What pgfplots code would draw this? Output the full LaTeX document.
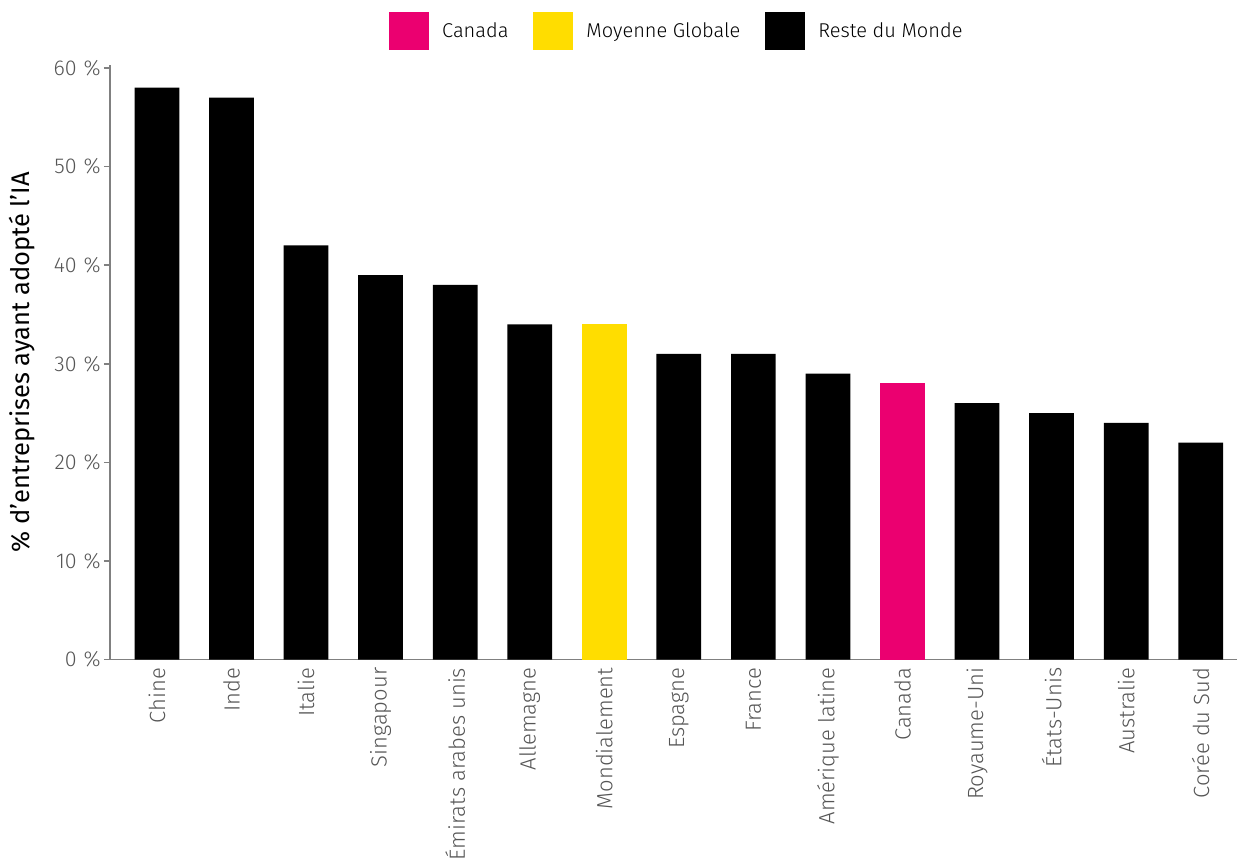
\documentclass[border=0pt]{standalone}
\usepackage{fontspec}
\setmainfont{Fira Sans}[UprightFont={* Light},BoldFont={*}]
\usepackage{pgfplots}
\pgfplotsset{compat=1.18}
\definecolor{cmag}{HTML}{EB0070}
\definecolor{cyel}{HTML}{FFDD00}
\definecolor{axgray}{HTML}{808080}
\definecolor{txgray}{HTML}{555555}
\begin{document}
\begin{tikzpicture}
\begin{axis}[
  scale only axis, width=1128pt, height=595pt,
  xmin=-0.63, xmax=14.49, ymin=0, ymax=60.3,
  axis x line=bottom, axis y line=left,
  axis line style={-, axgray, line width=1.5pt},
  ytick={0,10,...,60},
  yticklabel={\pgfmathprintnumber{\tick}\hspace{7pt}\%},
  /pgf/number format/assume math mode=true,
  ytick style={axgray, line width=1.5pt}, major tick length=6pt, tick align=outside,
  xtick={0,...,14},
  xticklabels={Chine,Inde,Italie,Singapour,Émirats arabes unis,Allemagne,Mondialement,Espagne,France,Amérique latine,Canada,Royaume-Uni,États-Unis,Australie,Corée du Sud},
  xtick style={draw=none},
  x tick label style={rotate=90, anchor=east, font=\fontsize{22}{26}\selectfont, text=txgray, inner sep=2pt},
  y tick label style={font=\fontsize{21.5}{24}\selectfont, text=txgray, inner sep=3pt},
  ylabel={\% d’entreprises ayant adopté l’IA},
  ylabel style={at={(axis description cs:-0.078,0.5)}, anchor=center, font=\bfseries\fontsize{25.5}{29}\selectfont, text=black},
  legend columns=3,
  legend style={draw=none, fill=none, inner sep=0pt, at={(axis description cs:0.502,1)}, anchor=north, yshift=53pt,
    font=\fontsize{20}{24}\selectfont, text=black,
    nodes={inner sep=0pt},
    /tikz/every odd column/.append style={column sep=13pt},
    /tikz/every even column/.append style={column sep=25pt}},
  after end axis/.code={
    \path (rel axis cs:0,0) ++(-110pt,-207pt);
    \path (rel axis cs:1,1) ++(0pt,65pt);
  },
]
\addplot[ybar, bar width=0.6, bar shift=0pt, fill=cmag, draw=none,
  legend image code/.code={\fill[cmag] (0pt,-19pt) rectangle (40pt,19pt);}]
  coordinates {(10,28)};
\addlegendentry{Canada}
\addplot[ybar, bar width=0.6, bar shift=0pt, fill=cyel, draw=none,
  legend image code/.code={\fill[cyel] (0pt,-19pt) rectangle (40pt,19pt);}]
  coordinates {(6,34)};
\addlegendentry{Moyenne Globale}
\addplot[ybar, bar width=0.6, bar shift=0pt, fill=black, draw=none,
  legend image code/.code={\fill[black] (0pt,-19pt) rectangle (40pt,19pt);}]
  coordinates {(0,58) (1,57) (2,42) (3,39) (4,38) (5,34) (7,31) (8,31) (9,29) (11,26) (12,25) (13,24) (14,22)};
\addlegendentry{Reste du Monde}
\end{axis}
\end{tikzpicture}
\end{document}
